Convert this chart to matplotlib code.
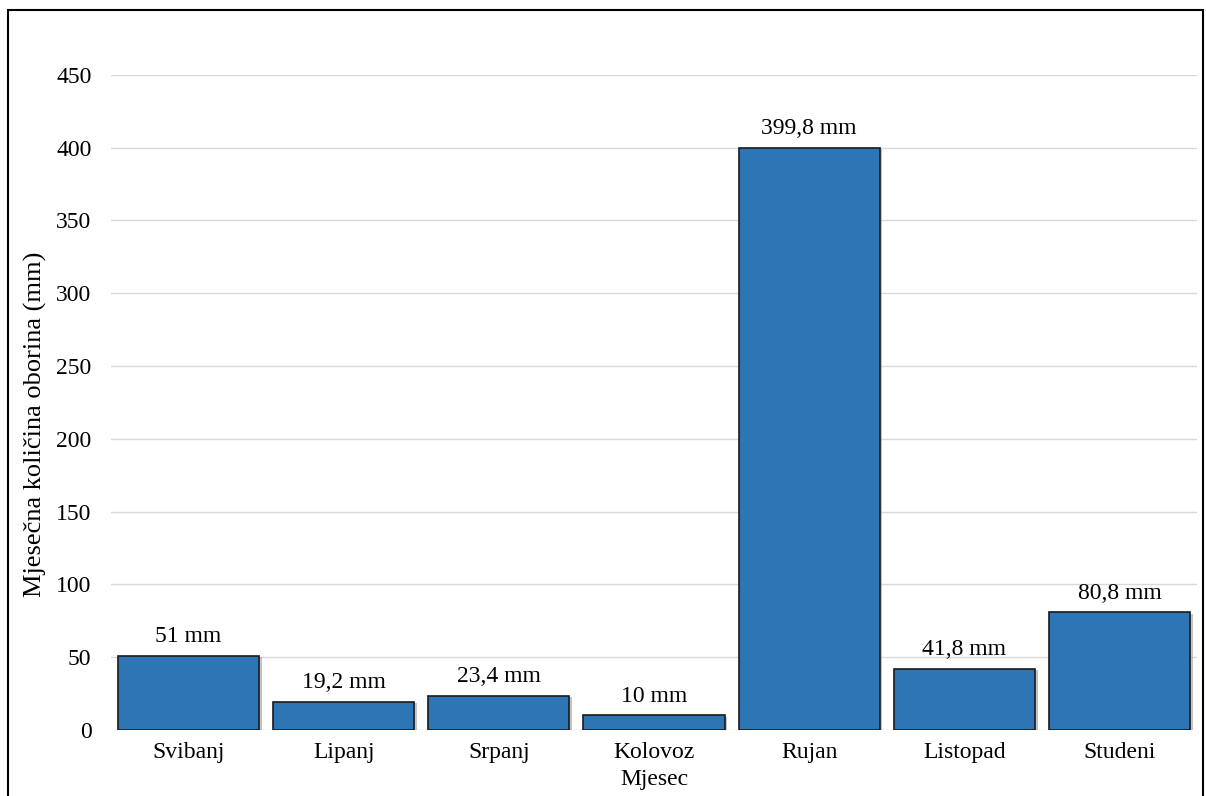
import matplotlib.pyplot as plt
from matplotlib.patches import Rectangle
import matplotlib.patheffects as pe

months = ['Svibanj', 'Lipanj', 'Srpanj', 'Kolovoz', 'Rujan', 'Listopad', 'Studeni']
rain = [51, 19.2, 23.4, 10, 399.8, 41.8, 80.8]
labels = ['51 mm', '19,2 mm', '23,4 mm', '10 mm', '399,8 mm', '41,8 mm', '80,8 mm']
yticks = [0, 50, 100, 150, 200, 250, 300, 350, 400, 450]

plt.rcParams['font.family'] = ['Liberation Serif', 'DejaVu Serif']
FS = 17

fig = plt.figure(figsize=(12.06, 7.96), dpi=100)
ax = fig.add_axes([0.092, 0.083, 0.9005, 0.823])

x = list(range(len(months)))
bars = ax.bar(x, rain, width=0.91, color='#2E75B6', edgecolor='#1a1a1a', linewidth=1.2, zorder=3)
for b in bars:
    b.set_path_effects([pe.SimplePatchShadow(offset=(2, -1), shadow_rgbFace='#888888', alpha=0.5), pe.Normal()])

for xi, v, lab in zip(x, rain, labels):
    ax.text(xi, v + 6, lab, ha='center', va='bottom', fontsize=FS)

ax.set_xlim(-0.5, len(months) - 0.5)
ax.set_ylim(0, 450)
ax.set_yticks(yticks)
ax.set_xticks(x)
ax.set_xticklabels(months)
ax.tick_params(length=0, labelsize=FS)
ax.tick_params(axis='y', pad=14)
ax.tick_params(axis='x', pad=9)
ax.grid(axis='y', color='#D9D9D9', linewidth=1, zorder=0)
for s in ax.spines.values():
    s.set_visible(False)

ax.set_ylabel('Mjesečna količina oborina (mm)', fontsize=19)
ax.yaxis.set_label_coords(-0.059, 0.466)
ax.set_xlabel('Mjesec', fontsize=FS, labelpad=4)

# outer frame
fig.patches.append(Rectangle((8 / 1206, -0.05), 1195 / 1206, 1.05 - 10 / 796,
                             transform=fig.transFigure, fill=False,
                             edgecolor='black', linewidth=1.5))

fig.savefig('out.png', dpi=100)
